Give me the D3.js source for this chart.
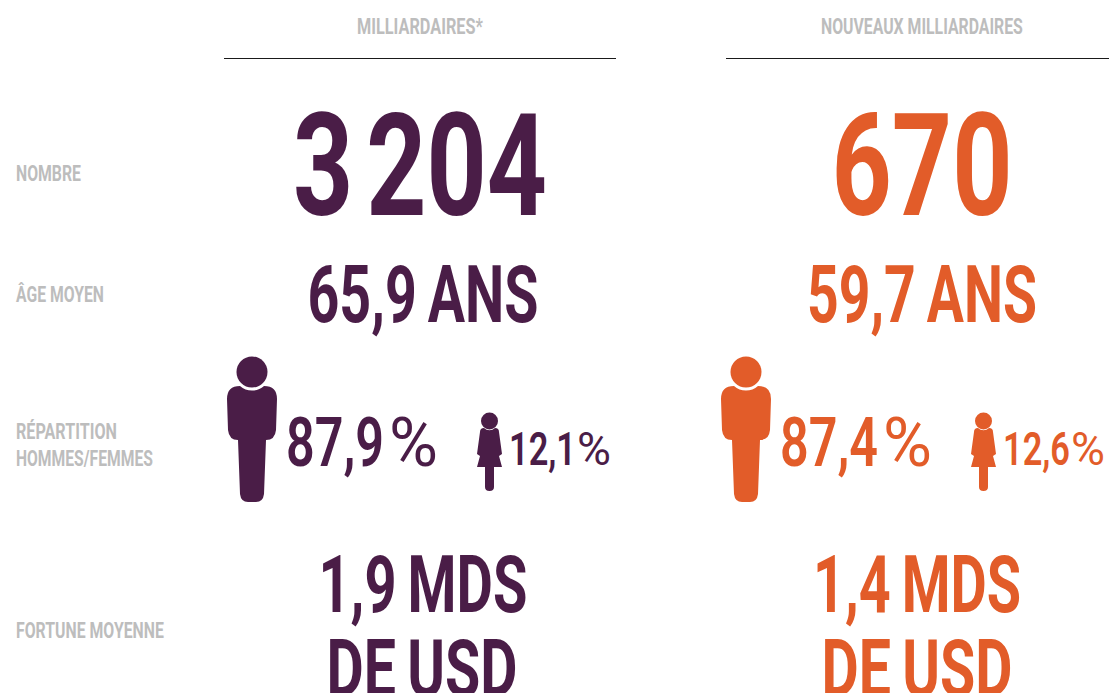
<!DOCTYPE html>
<html>
<head>
<meta charset="utf-8">
<title>Milliardaires</title>
<style>
  html, body { margin: 0; background: #fff; overflow: hidden; }
  text { font-family: Roboto, "Liberation Sans", sans-serif; font-weight: 700; }
</style>
</head>
<body>
<svg width="1109" height="693"></svg>
<script src="https://cdn.jsdelivr.net/npm/d3@7"></script>
<script>
// data
var columns = ["MILLIARDAIRES*", "NOUVEAUX MILLIARDAIRES"];
var counts = ["3 204", "670"];
var ages = ["65,9 ANS", "59,7 ANS"];
var menShare = ["87,9", "87,4"];
var womenShare = ["12,1", "12,6"];
var fortune = ["1,9 MDS", "1,4 MDS"];
var fortuneUnit = ["DE USD", "DE USD"];
var rowLabels = [["NOMBRE"], ["ÂGE MOYEN"], ["RÉPARTITION", "HOMMES/FEMMES"], ["FORTUNE MOYENNE"]];

var colors = d3.scaleOrdinal().domain(columns).range(["#4a1d47", "#e25c29"]);
var grey = "#bdbdbd";

var svg = d3.select("svg");

// columns: centre of the text and where the rule runs
var colX = d3.scaleOrdinal().domain(columns).range([420, 922]);
var ruleX = d3.scaleOrdinal().domain(columns).range([[224, 616], [726, 1109]]);

// writes a text squeezed to a given width, no condensed font is installed
function fit(x, y, str, size, w, fill, weight, wordGap) {
  var t = svg.append("text")
    .attr("font-size", size)
    .attr("fill", fill)
    .style("font-weight", weight || 700)
    .style("word-spacing", (wordGap || 0) + "px")
    .text(str);
  var k = w / t.node().getComputedTextLength();
  t.attr("transform", "translate(" + x + "," + y + ") scale(" + k + ",1)");
  return t;
}
function centred(cx, y, str, size, w, fill, gap) {
  return fit(cx - w / 2, y, str, size, w, fill, 700, gap);
}

// headers
var headW = [126, 202];
columns.forEach(function(c, i) {
  centred(colX(c), 34, c, 21.5, headW[i], grey);
  var r = ruleX(c);
  svg.append("line").attr("x1", r[0]).attr("x2", r[1]).attr("y1", 58.5).attr("y2", 58.5)
    .attr("stroke", "#1a1a1a").attr("stroke-width", 1);
});

// row labels
var labelY = [[181], [302], [439, 466], [638]];
var labelW = [[65], [88], [101, 137], [148]];
rowLabels.forEach(function(lines, i) {
  lines.forEach(function(l, j) {
    fit(16, labelY[i][j], l, 21.5, labelW[i][j], grey);
  });
});

// big numbers, centres differ a little from row to row
var countW = [254, 181], countX = [420, 922];
var ageW = [231, 230], ageX = [423, 922];
var fortW = [209, 208], fortX = [423, 917];
var unitW = [191, 191], unitX = [422, 917];
columns.forEach(function(c, i) {
  var col = colors(c);
  centred(countX[i], 214.5, counts[i], 143, countW[i], col, -18);
  centred(ageX[i], 322, ages[i], 80, ageW[i], col, -4);
  centred(fortX[i], 612, fortune[i], 80, fortW[i], col, -4);
  centred(unitX[i], 696, fortuneUnit[i], 80, unitW[i], col, -4);
});

// person icons, drawn in a 50 x 146 and a 25 x 79 box
var manBody = "M0,42Q0,29 13,29A18,18 0 0 0 37,29Q50,29 50,42L49,73Q48,83 39,83L37,137Q36,145 29,145L21,145Q14,145 13,137L11,83Q2,83 1,73Z";
var womanBody = "M3,20Q3,16 7,16A8,8 0 0 0 18,16Q22,16 22,20L25,42L22,44L25,55L17,55L17,75Q17,79 12.5,79Q8,79 8,75L8,55L0,55L3,44L0,42Z";
var iconH = d3.scaleLinear().domain([12.1, 87.9]).range([79, 145]);

function person(x, y, share, box, body, head, fill) {
  var k = iconH(share) / box;
  var g = svg.append("g").attr("transform", "translate(" + x + "," + y + ") scale(" + k + ")").attr("fill", fill);
  g.append("circle").attr("cx", head[0]).attr("cy", head[1]).attr("r", head[2]);
  g.append("path").attr("d", body);
}

var manX = [227, 721], womanX = [477, 971];
var menX = [286, 780], womenX = [509, 1003];
var menPctX = [389, 883], womenPctX = [577, 1071];
columns.forEach(function(c, i) {
  var col = colors(c);
  person(manX[i], 357, 87.9, 145, manBody, [25, 15, 15.5], col);
  person(womanX[i], 412, 12.1, 79, womanBody, [12.5, 9, 8.5], col);
  fit(menX[i], 466, menShare[i], 69, 98, col, 600);
  fit(menPctX[i], 466, "%", 69, 49, col, 400);
  fit(womenX[i], 465, womenShare[i], 46, 67, col, 600);
  fit(womenPctX[i], 465, "%", 46, 34, col, 400);
});
</script>
</body>
</html>
